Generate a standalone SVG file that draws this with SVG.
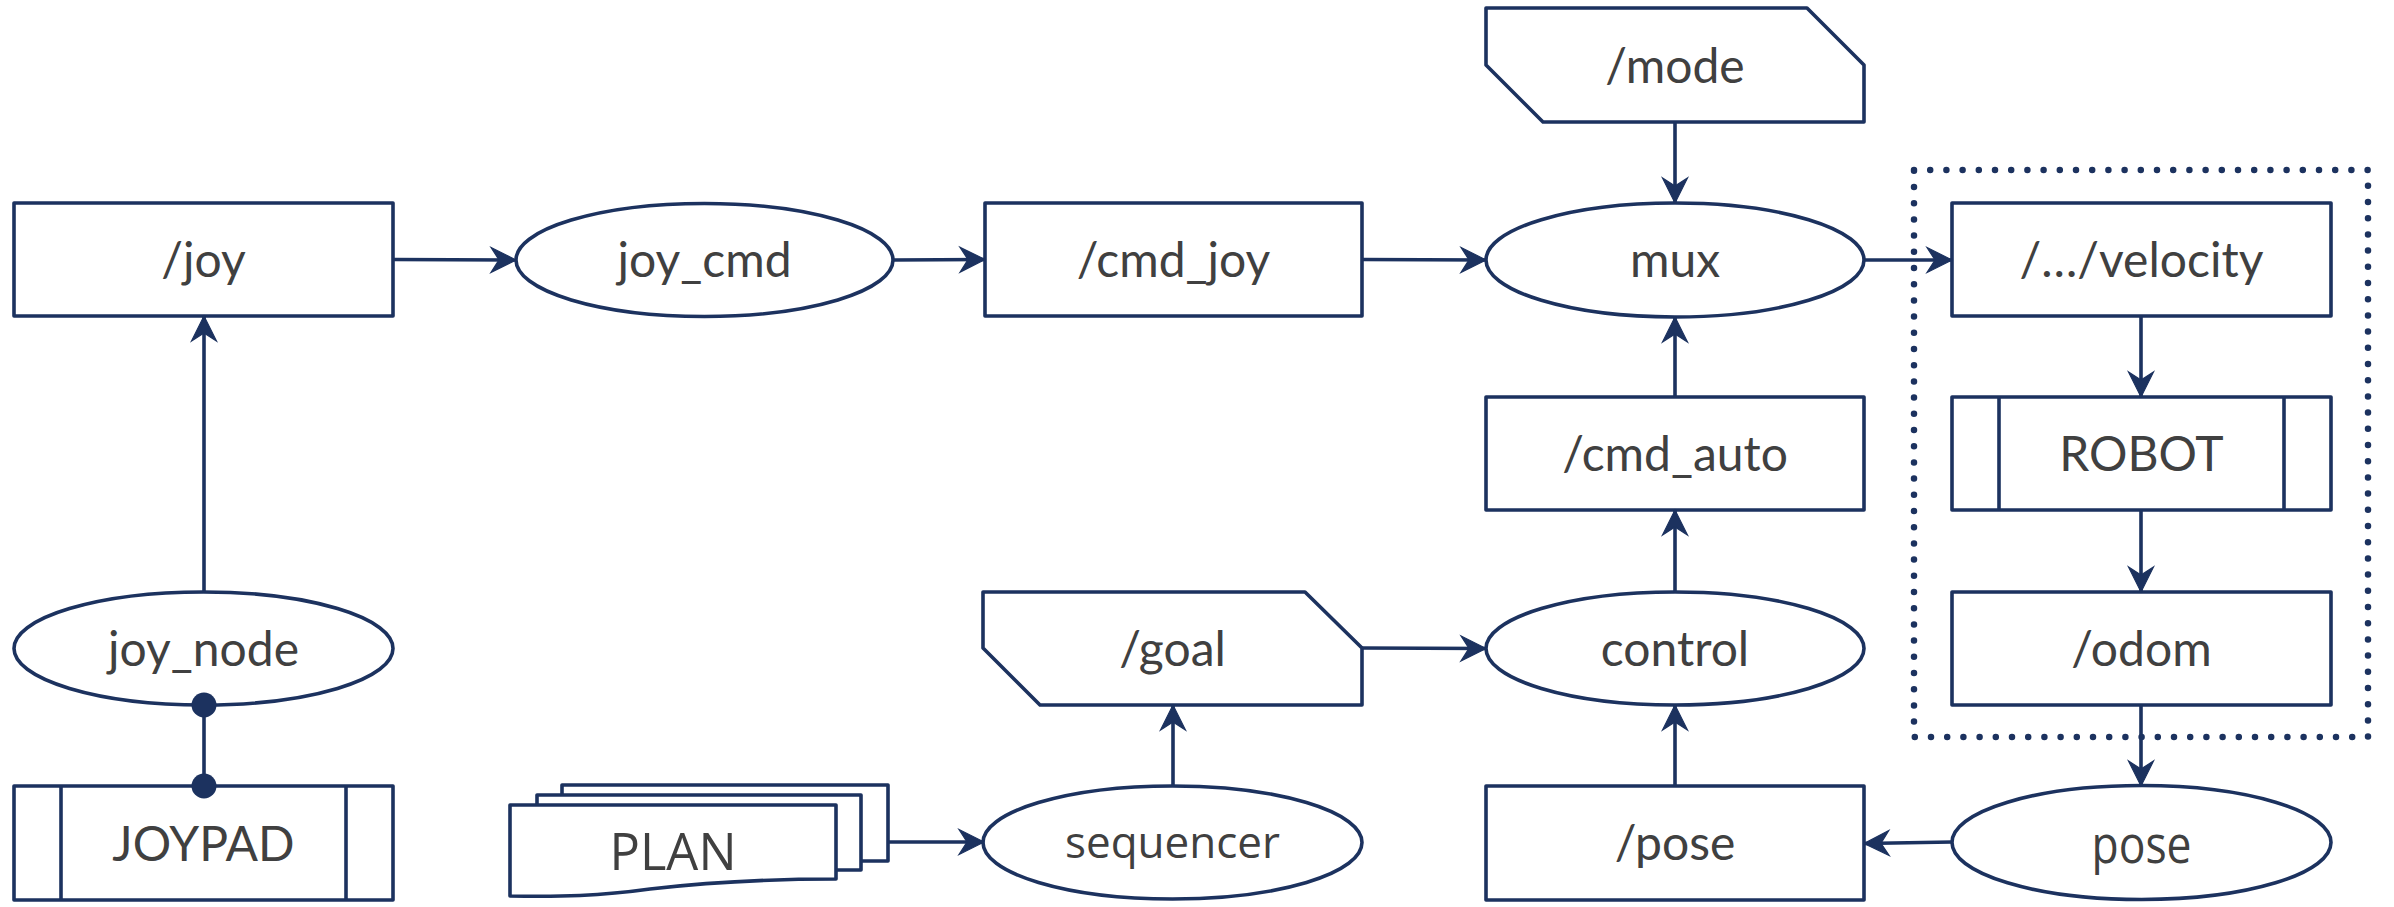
<svg xmlns="http://www.w3.org/2000/svg" width="2394" height="907" viewBox="0 0 2394 907">
<defs>
<style>
.n{fill:#ffffff;stroke:#1c325f;stroke-width:3.6;stroke-linejoin:round}
.l{fill:none;stroke:#1c325f;stroke-width:3.6}
.c{fill:none;stroke:#1c325f;stroke-width:3.6;marker-end:url(#arr)}
.t{font-family:Lato,"Liberation Sans",sans-serif;font-size:48px;fill:#404040;text-anchor:middle}
.o{font-family:"Open Sans","Liberation Sans",sans-serif;font-size:44px;fill:#404040;text-anchor:middle}
.dot{fill:#1c325f}
</style>
<marker id="arr" markerUnits="userSpaceOnUse" viewBox="-28 -15 32 30" refX="0" refY="0" markerWidth="32" markerHeight="30" orient="auto">
<path d="M0,0 L-25,-12.5 L-17,0 L-25,12.5 Z" fill="#1c325f" stroke="#1c325f" stroke-width="1.2" stroke-linejoin="miter"/>
</marker>
</defs>

<g id="group-robot">
<rect x="1914" y="170" width="454" height="567" fill="none" stroke="#1c325f" stroke-width="6.5" stroke-dasharray="0 16.2" stroke-linecap="round"/>
</g>

<g id="node-joy">
<rect class="n" x="14" y="203" width="379" height="113"/>
<text class="t" x="203.5" y="277">/joy</text>
</g>

<g id="node-joy_cmd">
<ellipse class="n" cx="704.5" cy="260" rx="188.5" ry="56.5"/>
<text class="t" x="704.5" y="277">joy_cmd</text>
</g>

<g id="node-cmd_joy">
<rect class="n" x="985" y="203" width="377" height="113"/>
<text class="t" x="1173.5" y="277">/cmd_joy</text>
</g>

<g id="node-mode">
<path class="n" d="M1486,8 L1807,8 L1864,65 L1864,122 L1543,122 L1486,65 Z"/>
<text class="t" x="1675" y="83">/mode</text>
</g>

<g id="node-mux">
<ellipse class="n" cx="1675" cy="260" rx="189" ry="57"/>
<text class="t" x="1675" y="277">mux</text>
</g>

<g id="node-velocity">
<rect class="n" x="1952" y="203" width="379" height="113"/>
<text class="t" x="2141.5" y="277">/…/velocity</text>
</g>

<g id="node-robot">
<rect class="n" x="1952" y="397" width="379" height="113"/>
<line class="l" x1="1999" y1="397" x2="1999" y2="510"/>
<line class="l" x1="2284" y1="397" x2="2284" y2="510"/>
<text class="t" x="2141.5" y="471">ROBOT</text>
</g>

<g id="node-odom">
<rect class="n" x="1952" y="592" width="379" height="113"/>
<text class="t" x="2141.5" y="666">/odom</text>
</g>

<g id="node-cmd_auto">
<rect class="n" x="1486" y="397" width="378" height="113"/>
<text class="t" x="1675" y="471">/cmd_auto</text>
</g>

<g id="node-control">
<ellipse class="n" cx="1675" cy="648.5" rx="189" ry="56.5"/>
<text class="t" x="1675" y="666">control</text>
</g>

<g id="node-goal">
<path class="n" d="M983,592 L1305,592 L1362,648 L1362,705 L1040,705 L983,648 Z"/>
<text class="t" x="1172.5" y="666">/goal</text>
</g>

<g id="node-joy_node">
<ellipse class="n" cx="203.5" cy="648.5" rx="189.5" ry="56.5"/>
<text class="t" x="203.5" y="666">joy_node</text>
</g>

<g id="node-joypad">
<rect class="n" x="14" y="786" width="379" height="114"/>
<line class="l" x1="61" y1="786" x2="61" y2="900"/>
<line class="l" x1="346" y1="786" x2="346" y2="900"/>
<text class="t" x="203.5" y="861">JOYPAD</text>
</g>

<g id="node-plan">
<rect class="n" x="562" y="785" width="326" height="76"/>
<rect class="n" x="537" y="795" width="324" height="75"/>
<path class="n" d="M510,805 L836,805 L836,879 C780,879 720,881 650,889 C600,896 560,897 510,896 Z"/>
<text class="o" x="673" y="870" style="font-size:52px" textLength="127" lengthAdjust="spacingAndGlyphs">PLAN</text>
</g>

<g id="node-sequencer">
<ellipse class="n" cx="1172.5" cy="842.5" rx="189.5" ry="56.5"/>
<text class="o" x="1172.5" y="858">sequencer</text>
</g>

<g id="node-pose-topic">
<rect class="n" x="1486" y="786" width="378" height="114"/>
<text class="t" x="1675" y="860">/pose</text>
</g>

<g id="node-pose">
<ellipse class="n" cx="2141.5" cy="842.5" rx="189.5" ry="57"/>
<text class="o" x="2141.5" y="863" style="font-size:51px" textLength="100" lengthAdjust="spacingAndGlyphs">pose</text>
</g>

<g id="connectors">
<line class="c" x1="394" y1="259.5" x2="516" y2="260"/>
<line class="c" x1="893" y1="260" x2="985" y2="259.5"/>
<line class="c" x1="1362" y1="259.5" x2="1486" y2="260"/>
<line class="c" x1="1864" y1="260" x2="1952" y2="260"/>
<line class="c" x1="1675" y1="122" x2="1675" y2="203"/>
<line class="c" x1="1675" y1="397" x2="1675" y2="317"/>
<line class="c" x1="1675" y1="592" x2="1675" y2="510"/>
<line class="c" x1="1675" y1="786" x2="1675" y2="705"/>
<line class="c" x1="1952" y1="842" x2="1864" y2="843.5"/>
<line class="c" x1="2141" y1="705" x2="2141" y2="786"/>
<line class="c" x1="2141" y1="316" x2="2141" y2="397"/>
<line class="c" x1="2141" y1="510" x2="2141" y2="592"/>
<line class="c" x1="1362" y1="648" x2="1486" y2="648.5"/>
<line class="c" x1="1173" y1="786" x2="1173" y2="705"/>
<line class="c" x1="888" y1="842" x2="984" y2="842"/>
<line class="c" x1="204" y1="592" x2="204" y2="316"/>
<line class="l" x1="204" y1="705" x2="204" y2="786"/>
<circle class="dot" cx="204" cy="705" r="12.5"/>
<circle class="dot" cx="204" cy="786" r="12.5"/>
</g>
</svg>
